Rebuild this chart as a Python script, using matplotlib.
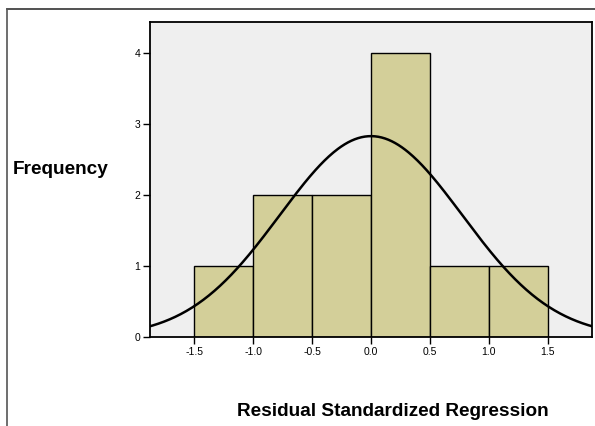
import numpy as np
import matplotlib.pyplot as plt
from matplotlib.lines import Line2D

# histogram of standardized residuals
bin_edges = [-1.5, -1.0, -0.5, 0.0, 0.5, 1.0, 1.5]
counts = [1, 2, 2, 4, 1, 1]

# normal curve fitted to the residuals
mean = 0.0
std_dev = 0.775
n_obs = 11

x_ticks = [-1.5, -1.0, -0.5, 0.0, 0.5, 1.0, 1.5]
x_tick_labels = ["-1.5", "-1.0", "-0.5", "0.0", "0.5", "1.0", "1.5"]
y_ticks = [0, 1, 2, 3, 4]

plt.rcParams['font.family'] = ['Liberation Sans', 'DejaVu Sans']

fig = plt.figure(figsize=(5.95, 4.26), dpi=100)
ax = fig.add_axes([150 / 595, 89 / 426, 442 / 595, 315 / 426])
ax.set_facecolor("#efefef")

widths = np.diff(bin_edges)
ax.bar(bin_edges[:-1], counts, width=widths, align="edge",
       color="#d3cf99", edgecolor="black", linewidth=1.0, zorder=2)

bw = widths[0]
xs = np.linspace(-1.9, 1.9, 400)
ys = n_obs * bw / (std_dev * np.sqrt(2 * np.pi)) * np.exp(-0.5 * ((xs - mean) / std_dev) ** 2)
ax.plot(xs, ys, color="black", linewidth=1.8, zorder=3)

ax.set_xlim(-1.876, 1.876)
ax.set_ylim(0, 4.44)
ax.set_xticks(x_ticks)
ax.set_xticklabels(x_tick_labels)
ax.set_yticks(y_ticks)
ax.tick_params(axis="both", direction="out", length=5, width=1.0,
               labelsize=7.5, pad=2)
for s in ax.spines.values():
    s.set_linewidth(1.3)

fig.text(13 / 595, 1 - 170 / 426, "Frequency", fontsize=13.7, fontweight="bold",
         ha="left", va="center")
fig.text(393 / 595, 1 - 411 / 426, "Residual Standardized Regression",
         fontsize=13.7, fontweight="bold", ha="center", va="center")

# outer frame lines (top and left)
fig.add_artist(Line2D([7 / 595, 1.0], [1 - 9 / 426, 1 - 9 / 426],
                      transform=fig.transFigure, color="#333333", linewidth=1.2))
fig.add_artist(Line2D([7 / 595, 7 / 595], [0, 1 - 9 / 426],
                      transform=fig.transFigure, color="#555555", linewidth=1.2))

fig.savefig("out.png", dpi=100)
